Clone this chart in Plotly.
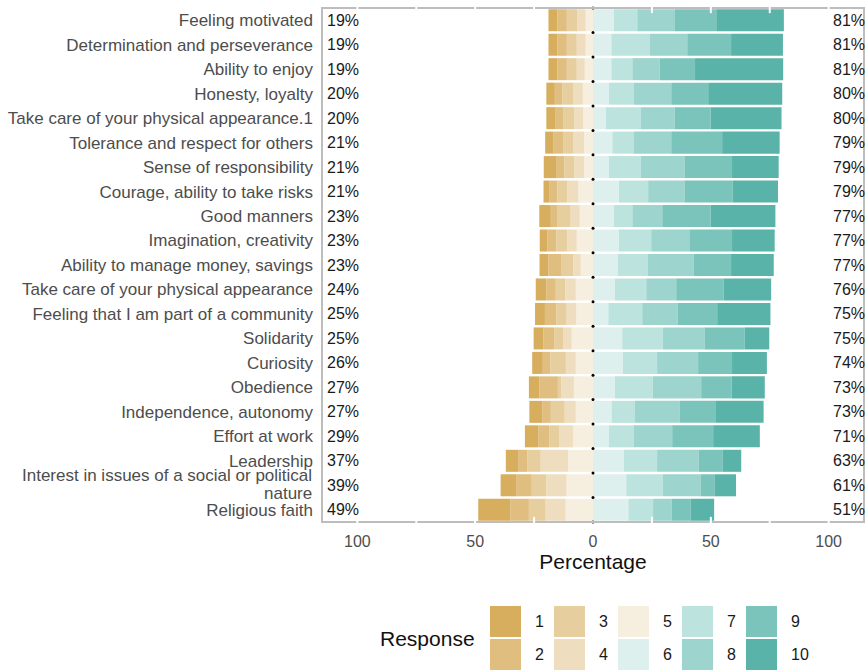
import plotly.graph_objects as go

categories = [
    "Feeling motivated",
    "Determination and perseverance",
    "Ability to enjoy",
    "Honesty, loyalty",
    "Take care of your physical appearance.1",
    "Tolerance and respect for others",
    "Sense of responsibility",
    "Courage, ability to take risks",
    "Good manners",
    "Imagination, creativity",
    "Ability to manage money, savings",
    "Take care of your physical appearance",
    "Feeling that I am part of a community",
    "Solidarity",
    "Curiosity",
    "Obedience",
    "Independence, autonomy",
    "Effort at work",
    "Leadership",
    "Interest in issues of a social or political<br>nature",
    "Religious faith",
]

resp1 = [3.8, 3.8, 3.8, 3.6, 3.7, 3.4, 5.5, 2.4, 4.9, 3.2, 3.8, 4.5, 4.2, 4.2, 4.5, 4.5, 5.6, 5.8, 5.2, 6.8, 13.7]
resp2 = [4.0, 4.0, 4.0, 3.2, 3.4, 4.2, 3.2, 3.5, 2.9, 3.8, 5.6, 4.0, 4.8, 4.5, 3.2, 7.8, 3.5, 4.5, 4.0, 6.4, 7.8]
resp3 = [4.5, 4.2, 4.2, 4.5, 4.7, 4.4, 4.2, 4.2, 5.5, 4.7, 4.9, 4.0, 4.4, 3.8, 6.6, 1.4, 5.9, 4.2, 5.6, 6.2, 7.1]
resp4 = [3.5, 3.8, 3.4, 4.2, 3.8, 4.5, 4.2, 4.7, 3.9, 4.0, 3.2, 4.5, 4.1, 3.7, 4.2, 5.4, 4.7, 5.9, 11.6, 8.6, 8.5]
resp5 = [3.1, 3.1, 3.5, 4.3, 4.2, 3.8, 3.8, 6.2, 5.6, 6.9, 5.2, 7.3, 7.1, 9.0, 7.3, 8.1, 7.3, 8.5, 10.6, 11.2, 11.6]
resp6 = [8.9, 7.8, 7.8, 6.8, 5.4, 8.2, 6.8, 11.0, 8.9, 11.0, 10.6, 9.3, 6.5, 12.4, 12.7, 9.3, 7.9, 6.8, 13.1, 14.1, 15.0]
resp7 = [9.9, 16.4, 8.9, 10.6, 14.8, 9.2, 13.4, 12.4, 7.8, 13.7, 12.7, 13.3, 14.4, 17.2, 14.5, 16.1, 9.9, 10.6, 14.1, 15.5, 10.5]
resp8 = [16.0, 15.8, 11.6, 15.8, 14.4, 15.8, 18.6, 15.4, 12.7, 16.2, 19.5, 12.7, 15.1, 17.7, 17.4, 20.5, 18.9, 16.2, 17.7, 16.0, 7.8]
resp9 = [17.5, 18.6, 15.0, 15.7, 15.3, 21.6, 20.2, 20.5, 20.5, 18.1, 15.8, 20.2, 16.7, 17.1, 14.4, 12.9, 15.5, 17.4, 10.2, 6.1, 8.2]
resp10 = [28.7, 22.0, 37.4, 31.4, 30.1, 24.4, 19.8, 19.2, 27.5, 18.1, 18.1, 20.1, 22.6, 10.4, 14.8, 14.1, 20.2, 19.8, 7.8, 9.0, 9.9]

low_labels = ["19%", "19%", "19%", "20%", "20%", "21%", "21%", "21%", "23%", "23%", "23%",
              "24%", "25%", "25%", "26%", "27%", "27%", "29%", "37%", "39%", "49%"]
high_labels = ["81%", "81%", "81%", "80%", "80%", "79%", "79%", "79%", "77%", "77%", "77%",
               "76%", "75%", "75%", "74%", "73%", "73%", "71%", "63%", "61%", "51%"]

levels = ["1", "2", "3", "4", "5", "6", "7", "8", "9", "10"]
colors = ["#D7AD5E", "#DFBE80", "#E7CE9F", "#EEDEBF", "#F6EEDF",
          "#DDF0ED", "#BDE3DE", "#9DD4CD", "#7BC4BB", "#5AB3A8"]

tick_vals = [-100, -50, 0, 50, 100]
tick_text = ["100", "50", "0", "50", "100"]
grid_vals = [-100, -75, -50, -25, 25, 50, 75, 100]

series = [resp1, resp2, resp3, resp4, resp5, resp6, resp7, resp8, resp9, resp10]
n = len(categories)
ypos = list(range(n))

FONT = "Liberation Sans, Arial, sans-serif"
LABEL_COLOR = "#4D4D4D"
LABEL_SIZE = 17

fig = go.Figure()

# negative side: level 5 closest to zero, then 4..1
for k in [4, 3, 2, 1, 0]:
    fig.add_trace(go.Bar(
        y=ypos, x=[-v for v in series[k]], orientation="h",
        marker=dict(color=colors[k], line=dict(width=0)),
        name=levels[k], showlegend=False,
        hovertemplate=levels[k] + ": %{customdata}%<extra></extra>",
        customdata=series[k],
    ))
for k in [5, 6, 7, 8, 9]:
    fig.add_trace(go.Bar(
        y=ypos, x=series[k], orientation="h",
        marker=dict(color=colors[k], line=dict(width=0)),
        name=levels[k], showlegend=False,
        hovertemplate=levels[k] + ": %{x}%<extra></extra>",
    ))

# dotted centre line (dots between bars)
fig.add_trace(go.Scatter(
    x=[0] * (n + 1), y=[i - 0.5 for i in range(n + 1)], mode="markers",
    marker=dict(color="black", size=3), showlegend=False, hoverinfo="skip",
    cliponaxis=False,
))

# category labels: single-line ones as ticks, wrapped ones as tight two-line annotations
tick_labels = []
for i, cat in enumerate(categories):
    parts = cat.split("<br>")
    if len(parts) == 1:
        tick_labels.append(cat)
    else:
        tick_labels.append("")
        fig.add_annotation(x=0, xref="paper", y=i, yref="y", text=parts[0],
                           showarrow=False, xanchor="right", yanchor="middle",
                           xshift=-8, yshift=10,
                           font=dict(family=FONT, size=LABEL_SIZE, color=LABEL_COLOR))
        fig.add_annotation(x=0, xref="paper", y=i, yref="y", text=parts[1],
                           showarrow=False, xanchor="right", yanchor="middle",
                           xshift=-8, yshift=-8,
                           font=dict(family=FONT, size=LABEL_SIZE, color=LABEL_COLOR))

# percentage labels
for i in range(n):
    fig.add_annotation(x=0, xref="paper", y=i, yref="y", text=low_labels[i],
                       showarrow=False, xanchor="left", xshift=3,
                       font=dict(family=FONT, size=16, color="#1a1a1a"))
    fig.add_annotation(x=1, xref="paper", y=i, yref="y", text=high_labels[i],
                       showarrow=False, xanchor="right", xshift=3,
                       font=dict(family=FONT, size=16, color="#1a1a1a"))

# panel border
border_col = "#BDBDBD"
shapes = [
    dict(type="rect", xref="paper", yref="paper", x0=0, x1=1, y0=0, y1=1,
         line=dict(color=border_col, width=2), layer="above"),
]
# white breaks in border at grid positions
for g in grid_vals:
    for (y0, y1) in [(-0.01, 0.01), (0.99, 1.01)]:
        shapes.append(dict(type="line", xref="x", yref="paper", x0=g, x1=g, y0=y0, y1=y1,
                           line=dict(color="white", width=2), layer="above"))

# manual legend (2 rows x 5 columns, column-major like ggplot)
L, T, W, H = 322, 8, 542, 514
def px(x):
    return (x - L) / W
def py(y):
    return (T + H - y) / H

key_w, key_h = 31, 31
col_x0 = 490
col_step = 64
row_y0 = 606
row_step = 33
for idx, lev in enumerate(levels):
    c = idx // 2
    r = idx % 2
    x0 = col_x0 + c * col_step
    y0 = row_y0 + r * row_step
    shapes.append(dict(type="rect", xref="paper", yref="paper",
                       x0=px(x0), x1=px(x0 + key_w), y0=py(y0 + key_h), y1=py(y0),
                       fillcolor=colors[idx], line=dict(width=0), layer="above"))
    fig.add_annotation(x=px(x0 + key_w + 12), xref="paper", y=py(y0 + key_h / 2), yref="paper",
                       text=lev, showarrow=False, xanchor="left", yanchor="middle",
                       font=dict(family=FONT, size=16, color="#1a1a1a"))

fig.add_annotation(x=px(477), xref="paper", y=py(638), yref="paper", text="Response",
                   showarrow=False, xanchor="right", yanchor="middle",
                   font=dict(family=FONT, size=21, color="#111111"))

fig.update_layout(
    width=868, height=672,
    margin=dict(l=L, r=868 - L - W, t=T, b=672 - T - H, autoexpand=False),
    plot_bgcolor="white", paper_bgcolor="white",
    barmode="relative", bargap=0.1,
    shapes=shapes,
    font=dict(family=FONT),
    xaxis=dict(range=[-115, 115], tickvals=tick_vals, ticktext=tick_text,
               showgrid=False, zeroline=False, showline=False, ticks="",
               ticklabelstandoff=8, automargin=False,
               tickfont=dict(family=FONT, size=16, color=LABEL_COLOR),
               title=dict(text="Percentage", standoff=4,
                          font=dict(family=FONT, size=21, color="#111111"))),
    yaxis=dict(range=[n - 0.5, -0.5], tickvals=ypos, ticktext=tick_labels,
               showgrid=False, zeroline=False, showline=False, ticks="",
               ticklabelstandoff=8, automargin=False,
               tickfont=dict(family=FONT, size=LABEL_SIZE, color=LABEL_COLOR)),
)

fig.write_html(
    "out.html",
    config={"displayModeBar": False},
    post_script="document.body.style.margin='0px';document.body.style.overflow='hidden';",
)
